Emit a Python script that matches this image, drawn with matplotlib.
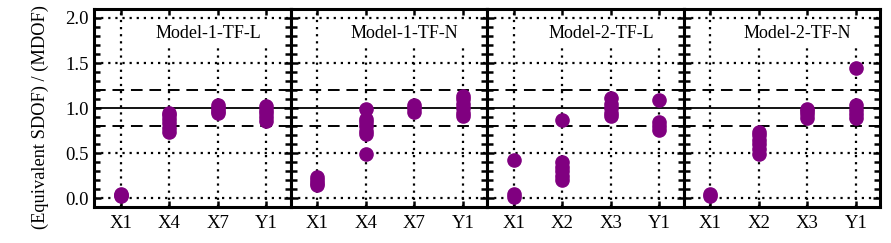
import matplotlib
matplotlib.use("Agg")
import matplotlib.pyplot as plt
from matplotlib.ticker import MultipleLocator, FormatStrFormatter

plt.rcParams['font.family'] = ['Liberation Serif', 'DejaVu Serif']

titles = ["Model-1-TF-L", "Model-1-TF-N", "Model-2-TF-L", "Model-2-TF-N"]
categories = [
    ["X1", "X4", "X7", "Y1"],
    ["X1", "X4", "X7", "Y1"],
    ["X1", "X2", "X3", "Y1"],
    ["X1", "X2", "X3", "Y1"],
]
# ratio values per category for each panel
p1_values = [
    [0.02, 0.03, 0.04],
    [0.73, 0.78, 0.83, 0.88, 0.92, 0.95],
    [0.94, 0.97, 1.00, 1.03],
    [0.86, 0.90, 0.94, 0.98, 1.02],
]
p2_values = [
    [0.14, 0.17, 0.20, 0.23],
    [0.99, 0.88, 0.84, 0.80, 0.75, 0.71, 0.49],
    [0.96, 1.00, 1.03],
    [0.91, 0.95, 1.00, 1.05, 1.10, 1.13],
]
p3_values = [
    [0.42, 0.04, 0.01],
    [0.87, 0.40, 0.35, 0.30, 0.25, 0.20],
    [0.91, 0.95, 1.00, 1.05, 1.11],
    [1.09, 0.84, 0.80, 0.76],
]
p4_values = [
    [0.02, 0.04],
    [0.49, 0.55, 0.60, 0.65, 0.70, 0.73],
    [0.89, 0.93, 0.97, 0.99],
    [1.44, 1.03, 0.98, 0.93, 0.89],
]
all_values = [p1_values, p2_values, p3_values, p4_values]

YMIN, YMAX = -0.1, 2.1

fig, axes = plt.subplots(1, 4, figsize=(8.91, 2.43), dpi=100, sharey=True)
fig.subplots_adjust(left=0.1055, right=0.9877, top=0.963, bottom=0.148, wspace=0)

for ax, title, cats, vals in zip(axes, titles, categories, all_values):
    xs = list(range(1, len(cats) + 1))
    for y in [0.0, 0.5, 1.5, 2.0]:
        ax.axhline(y, color='black', lw=1.6, ls=(0, (1, 2.2)), zorder=1)
    for y in [0.8, 1.2]:
        ax.axhline(y, color='black', lw=1.4, ls=(0, (6, 3.5)), zorder=1)
    ax.axhline(1.0, color='black', lw=1.3, zorder=1)
    for i, x in enumerate(xs):
        top = 1.0 if i == 0 else (1.68 - YMIN) / (YMAX - YMIN)
        ax.axvline(x, ymin=0, ymax=top, color='black', lw=1.6, ls=(0, (1, 2.2)), zorder=1)
    for x, v in zip(xs, vals):
        ax.plot([x] * len(v), v, 'o', color='#800080', ms=9.5, mec='#800080', zorder=3)
    ax.set_xlim(0.45, 4.5)
    ax.set_ylim(YMIN, YMAX)
    ax.set_xticks(xs)
    ax.set_xticklabels(cats, fontsize=13.5)
    ax.yaxis.set_major_locator(MultipleLocator(0.5))
    ax.yaxis.set_minor_locator(MultipleLocator(0.1))
    ax.yaxis.set_major_formatter(FormatStrFormatter('%.1f'))
    ax.tick_params(axis='y', which='both', direction='in', left=True, right=True,
                   width=1.8, labelsize=13.5, pad=4)
    ax.tick_params(axis='y', which='major', length=5)
    ax.tick_params(axis='y', which='minor', length=4)
    ax.tick_params(axis='x', direction='in', top=True, bottom=True, length=4, width=1.8, pad=6)
    for s in ax.spines.values():
        s.set_linewidth(2.2)
    ax.text(0.58, 0.877, title, transform=ax.transAxes, ha='center', va='center', fontsize=13)

fig.text(40 / 891, 0.52, "(Equivalent SDOF) / (MDOF)", rotation=90,
         ha='center', va='center', fontsize=13.2)

fig.savefig("out.png", dpi=100)
